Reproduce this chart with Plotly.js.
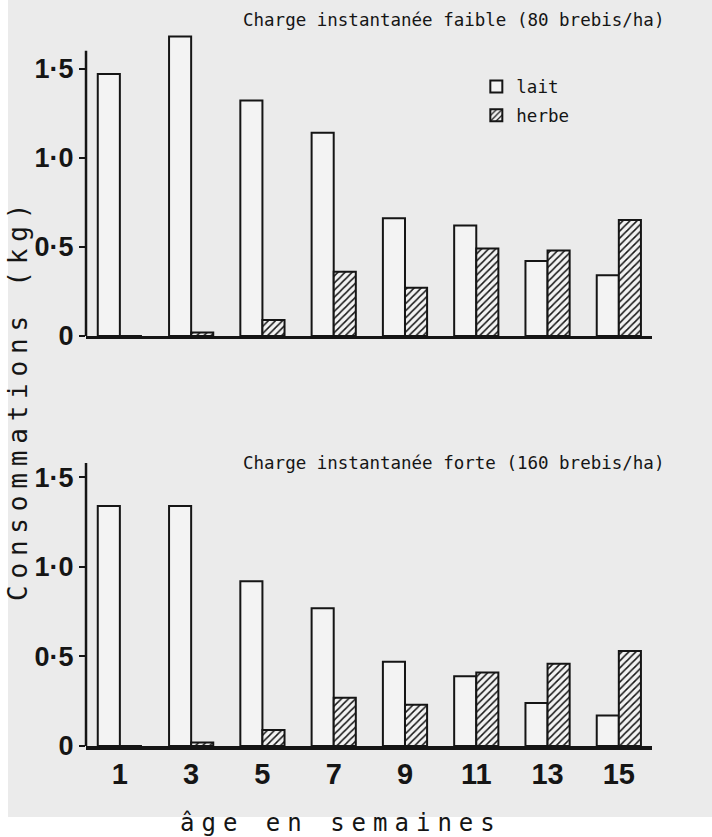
<!DOCTYPE html>
<html>
<head>
<meta charset="utf-8">
<script src="https://cdn.plot.ly/plotly-3.0.1.min.js"></script>
<style>html,body{margin:0;padding:0;background:#ebebeb;}#chart{width:712px;height:837px;}</style>
</head>
<body>
<div id="chart"></div>
<script>
// Data
const weeks = [1, 3, 5, 7, 9, 11, 13, 15];
const laitFaible  = [1.47, 1.68, 1.32, 1.14, 0.66, 0.62, 0.42, 0.34];
const herbeFaible = [0.00, 0.02, 0.09, 0.36, 0.27, 0.49, 0.48, 0.65];
const laitForte   = [1.34, 1.34, 0.92, 0.77, 0.47, 0.39, 0.24, 0.17];
const herbeForte  = [0.00, 0.02, 0.09, 0.27, 0.23, 0.41, 0.46, 0.53];
const seriesNames = ['lait', 'herbe'];
const titleFaible = 'Charge instantanée faible (80 brebis/ha)';
const titleForte  = 'Charge instantanée forte (160 brebis/ha)';
const yTickVals = [0, 0.5, 1.0, 1.5];
const yTickText = ['0', '0·5', '1·0', '1·5'];
const xTickText = ['1', '3', '5', '7', '9', '11', '13', '15'];
const yTitle = 'Consommations (kg)';
const xTitle = 'âge en semaines';

const BG = '#ebebeb';
const FILL = '#f3f3f3';
const INK = '#151515';
const mono = 'DejaVu Sans Mono, Liberation Mono, monospace';

function laitTrace(y, xa, ya, show) {
  return {
    type: 'bar', name: seriesNames[0], x: weeks, y: y, xaxis: xa, yaxis: ya,
    showlegend: show, legendgroup: 'a',
    marker: {color: FILL, line: {color: INK, width: 2}},
    hoverinfo: 'skip'
  };
}
function herbeTrace(y, xa, ya, show) {
  return {
    type: 'bar', name: seriesNames[1], x: weeks, y: y, xaxis: xa, yaxis: ya,
    showlegend: show, legendgroup: 'b',
    marker: {color: FILL, line: {color: INK, width: 2},
      pattern: {shape: '/', fgcolor: INK, bgcolor: FILL, size: 5, solidity: 0.3}},
    hoverinfo: 'skip'
  };
}

const data = [
  laitTrace(laitFaible, 'x', 'y', true),
  herbeTrace(herbeFaible, 'x', 'y', true),
  laitTrace(laitForte, 'x2', 'y2', false),
  herbeTrace(herbeForte, 'x2', 'y2', false)
];

const xRange = [0.05, 15.93];
const xDomain = [0.1208, 0.9157];
const yRange = [0, 1.72];

const yTickFont = {family: 'Liberation Sans, Arial, sans-serif', size: 27, color: INK, weight: 'bold'};

const layout = {
  width: 712, height: 837,
  margin: {l: 0, r: 0, t: 0, b: 0},
  paper_bgcolor: BG, plot_bgcolor: 'rgba(0,0,0,0)',
  barmode: 'group', bargap: 0.38, bargroupgap: 0,
  showlegend: true,
  legend: {
    x: 0.669, y: 0.918, xanchor: 'left', yanchor: 'top',
    bgcolor: 'rgba(0,0,0,0)', borderwidth: 0,
    font: {family: mono, size: 17.5, color: INK},
    traceorder: 'grouped', tracegroupgap: 3, itemwidth: 30
  },
  xaxis: {
    domain: xDomain, range: xRange, anchor: 'y',
    showgrid: false, zeroline: false, showline: true, linecolor: INK, linewidth: 3.5,
    ticks: '', showticklabels: false, fixedrange: true
  },
  yaxis: {
    domain: [0.5986, 0.9650], range: yRange, anchor: 'x',
    showgrid: false, zeroline: false, showline: false,
    tickmode: 'array', tickvals: yTickVals, ticktext: yTickText,
    ticks: 'outside', ticklen: 6, tickwidth: 2, tickcolor: INK,
    tickfont: yTickFont, fixedrange: true
  },
  xaxis2: {
    domain: xDomain, range: xRange, anchor: 'y2',
    showgrid: false, zeroline: false, showline: true, linecolor: INK, linewidth: 3.5,
    ticks: '', tickmode: 'array', tickvals: weeks, ticktext: xTickText,
    tickfont: {family: 'Liberation Sans, Arial, sans-serif', size: 29, color: INK, weight: 'bold'},
    fixedrange: true
  },
  yaxis2: {
    domain: [0.1087, 0.4767], range: yRange, anchor: 'x2',
    showgrid: false, zeroline: false, showline: false,
    tickmode: 'array', tickvals: yTickVals, ticktext: yTickText,
    ticks: 'outside', ticklen: 6, tickwidth: 2, tickcolor: INK,
    tickfont: yTickFont, fixedrange: true
  },
  shapes: [
    {type: 'rect', xref: 'paper', yref: 'paper', x0: 0, x1: 1, y0: 0, y1: (837 - 817) / 837,
     fillcolor: '#ffffff', line: {width: 0}, layer: 'below'},
    {type: 'rect', xref: 'paper', yref: 'paper', x0: 0, x1: 8 / 712, y0: 0, y1: 1,
     fillcolor: '#ffffff', line: {width: 0}, layer: 'below'},
    {type: 'line', xref: 'x domain', yref: 'y', x0: 0, x1: 0, y0: 0, y1: 1.60,
     line: {color: INK, width: 2.5}},
    {type: 'line', xref: 'x2 domain', yref: 'y2', x0: 0, x1: 0, y0: 0, y1: 1.58,
     line: {color: INK, width: 2.5}}
  ],
  annotations: [
    {text: titleFaible, xref: 'paper', yref: 'paper', x: 241 / 712, y: (837 - 20) / 837,
     xanchor: 'left', yanchor: 'middle', showarrow: false,
     font: {family: mono, size: 17.5, color: INK}},
    {text: titleForte, xref: 'paper', yref: 'paper', x: 241 / 712, y: (837 - 463) / 837,
     xanchor: 'left', yanchor: 'middle', showarrow: false,
     font: {family: mono, size: 17.5, color: INK}},
    {text: '<span style="letter-spacing:6.8px">' + yTitle + '</span>', xref: 'paper', yref: 'paper',
     x: 18 / 712, y: (837 - 399) / 837, xanchor: 'center', yanchor: 'middle',
     textangle: -90, showarrow: false,
     font: {family: mono, size: 26, color: INK}},
    {text: '<span style="letter-spacing:7px">' + xTitle + '</span>', xref: 'paper', yref: 'paper',
     x: 341 / 712, y: -0.002, xanchor: 'center', yanchor: 'bottom', showarrow: false,
     font: {family: mono, size: 24, color: INK}}
  ]
};

Plotly.newPlot('chart', data, layout, {staticPlot: true, displayModeBar: false});
</script>
</body>
</html>
